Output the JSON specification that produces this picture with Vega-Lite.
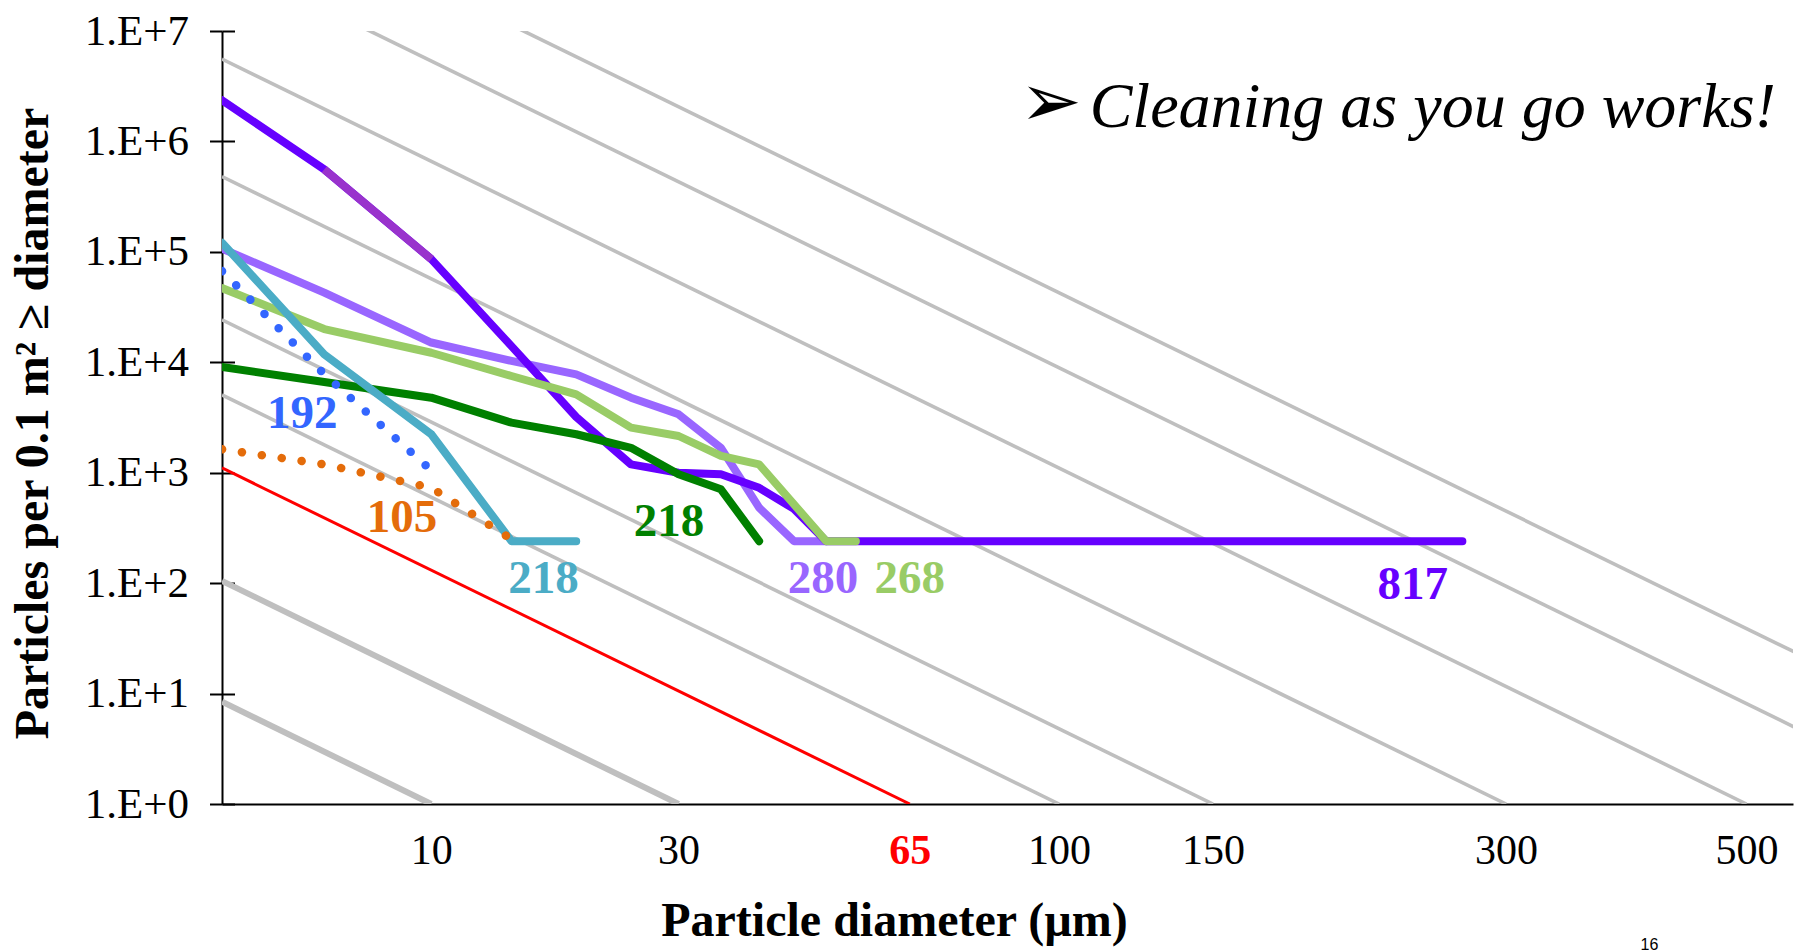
{
  "$schema": "https://vega.github.io/schema/vega-lite/v6.json",
  "width": 1571,
  "height": 773,
  "autosize": "none",
  "padding": {"left": 222, "top": 31, "right": 13, "bottom": 148},
  "background": "white",
  "config": {"view": {"stroke": null}, "font": "Liberation Serif"},
  "data": {"values": [
    {"kind": "ref", "s": "L10", "L": 10, "d": 1, "n": 8.43},
    {"kind": "ref", "s": "L10", "L": 10, "d": 10, "n": 1},
    {"kind": "ref", "s": "L30", "L": 30, "d": 1, "n": 104.8},
    {"kind": "ref", "s": "L30", "L": 30, "d": 30, "n": 1},
    {"kind": "ref", "s": "L100", "L": 100, "d": 1, "n": 5058},
    {"kind": "ref", "s": "L100", "L": 100, "d": 100, "n": 1},
    {"kind": "ref", "s": "L150", "L": 150, "d": 1, "n": 24265},
    {"kind": "ref", "s": "L150", "L": 150, "d": 150, "n": 1},
    {"kind": "ref", "s": "L300", "L": 300, "d": 1, "n": 480900},
    {"kind": "ref", "s": "L300", "L": 300, "d": 300, "n": 1},
    {"kind": "ref", "s": "L500", "L": 500, "d": 1, "n": 5565000},
    {"kind": "ref", "s": "L500", "L": 500, "d": 500, "n": 1},
    {"kind": "ref", "s": "L750", "L": 750, "d": 1, "n": 45110000},
    {"kind": "ref", "s": "L750", "L": 750, "d": 750, "n": 1},
    {"kind": "ref", "s": "L1000", "L": 1000, "d": 1, "n": 215800000},
    {"kind": "ref", "s": "L1000", "L": 1000, "d": 1000, "n": 1},
    {"kind": "limit", "s": "65", "d": 1, "n": 1105},
    {"kind": "limit", "s": "65", "d": 65, "n": 1},
    {"kind": "solid", "s": "280", "d": 1, "n": 107000},
    {"kind": "solid", "s": "280", "d": 5, "n": 42700},
    {"kind": "solid", "s": "280", "d": 10, "n": 15100},
    {"kind": "solid", "s": "280", "d": 15, "n": 10300},
    {"kind": "solid", "s": "280", "d": 20, "n": 7780},
    {"kind": "solid", "s": "280", "d": 25, "n": 4780},
    {"kind": "solid", "s": "280", "d": 30, "n": 3380},
    {"kind": "solid", "s": "280", "d": 35, "n": 1680},
    {"kind": "solid", "s": "280", "d": 40, "n": 482},
    {"kind": "solid", "s": "280", "d": 45, "n": 240},
    {"kind": "solid", "s": "280", "d": 50, "n": 240},
    {"kind": "solid", "s": "817", "d": 1, "n": 2360000},
    {"kind": "solid", "s": "817", "d": 5, "n": 559000},
    {"kind": "solid", "s": "817", "d": 10, "n": 86000},
    {"kind": "solid", "s": "817", "d": 15, "n": 14000},
    {"kind": "solid", "s": "817", "d": 20, "n": 3200},
    {"kind": "solid", "s": "817", "d": 25, "n": 1190},
    {"kind": "solid", "s": "817", "d": 30, "n": 1000},
    {"kind": "solid", "s": "817", "d": 35, "n": 970},
    {"kind": "solid", "s": "817", "d": 40, "n": 730},
    {"kind": "solid", "s": "817", "d": 45, "n": 470},
    {"kind": "solid", "s": "817", "d": 50, "n": 240},
    {"kind": "solid", "s": "817", "d": 272, "n": 240},
    {"kind": "solid", "s": "268", "d": 1, "n": 47000},
    {"kind": "solid", "s": "268", "d": 5, "n": 20000},
    {"kind": "solid", "s": "268", "d": 10, "n": 12200},
    {"kind": "solid", "s": "268", "d": 15, "n": 7510},
    {"kind": "solid", "s": "268", "d": 20, "n": 5130},
    {"kind": "solid", "s": "268", "d": 25, "n": 2560},
    {"kind": "solid", "s": "268", "d": 30, "n": 2150},
    {"kind": "solid", "s": "268", "d": 35, "n": 1420},
    {"kind": "solid", "s": "268", "d": 40, "n": 1190},
    {"kind": "solid", "s": "268", "d": 50, "n": 240},
    {"kind": "solid", "s": "268", "d": 55, "n": 240},
    {"kind": "solid", "s": "218g", "d": 1, "n": 9060},
    {"kind": "solid", "s": "218g", "d": 5, "n": 6640},
    {"kind": "solid", "s": "218g", "d": 10, "n": 4780},
    {"kind": "solid", "s": "218g", "d": 15, "n": 2840},
    {"kind": "solid", "s": "218g", "d": 20, "n": 2230},
    {"kind": "solid", "s": "218g", "d": 25, "n": 1680},
    {"kind": "solid", "s": "218g", "d": 30, "n": 970},
    {"kind": "solid", "s": "218g", "d": 35, "n": 707},
    {"kind": "solid", "s": "218g", "d": 40, "n": 240},
    {"kind": "solid", "s": "218t", "d": 1, "n": 121000},
    {"kind": "solid", "s": "218t", "d": 5, "n": 11800},
    {"kind": "solid", "s": "218t", "d": 10, "n": 2230},
    {"kind": "solid", "s": "218t", "d": 15, "n": 240},
    {"kind": "solid", "s": "218t", "d": 20, "n": 240},
    {"kind": "seg", "s": "817seg", "d": 5, "n": 559000},
    {"kind": "seg", "s": "817seg", "d": 10, "n": 86000},
    {"kind": "dot", "s": "192", "d": 1, "n": 67000},
    {"kind": "dot", "s": "192", "d": 5, "n": 7800},
    {"kind": "dot", "s": "192", "d": 10, "n": 1050},
    {"kind": "dot", "s": "105", "d": 1, "n": 1630},
    {"kind": "dot", "s": "105", "d": 5, "n": 1190},
    {"kind": "dot", "s": "105", "d": 10, "n": 731},
    {"kind": "dot", "s": "105", "d": 15, "n": 250},
    {"kind": "label", "s": "192", "t": "192", "d": 4.16, "n": 2557},
    {"kind": "label", "s": "105", "t": "105", "d": 8.455, "n": 292},
    {"kind": "label", "s": "218t", "t": "218", "d": 17.35, "n": 80.9},
    {"kind": "label", "s": "218g", "t": "218", "d": 28.93, "n": 267},
    {"kind": "label", "s": "280", "t": "280", "d": 49.5, "n": 80.9},
    {"kind": "label", "s": "268", "t": "268", "d": 64.97, "n": 80.9},
    {"kind": "label", "s": "817", "t": "817", "d": 242.8, "n": 71.8},
    {"kind": "note", "t": "Cleaning as you go works!", "d": 108.7, "n": 1350000},
    {"kind": "arrow", "t": "➢", "d": 97.7, "n": 1380000},
    {"kind": "page", "t": "16", "d": 409, "n": 0.0477}
  ]},
  "transform": [{"calculate": "pow(log(datum.d) / LN10, 2)", "as": "u"}],
  "resolve": {"axis": {"y": "independent"}},
  "encoding": {
    "x": {"field": "u", "type": "quantitative", "scale": {"domain": [0, 7.507], "nice": false, "zero": false},
      "axis": {"values": [1, 2.181887, 3.286654, 4, 4.735374, 6.136131, 7.284439],
        "labelExpr": "format(pow(10, sqrt(datum.value)), '.0f')",
        "labelFont": "Liberation Serif", "labelFontSize": 42,
        "labelColor": {"condition": {"test": "abs(datum.value - 3.286654) < 0.01", "value": "#FF0000"}, "value": "black"},
        "labelFontWeight": {"condition": {"test": "abs(datum.value - 3.286654) < 0.01", "value": "bold"}, "value": "normal"},
        "labelPadding": 26, "labelOverlap": false, "labelFlush": false,
        "ticks": false, "tickSize": 0, "grid": false,
        "domainColor": "black", "domainWidth": 2,
        "title": "Particle diameter (µm)", "titleFont": "Liberation Serif", "titleFontSize": 48, "titleFontWeight": "bold", "titleColor": "black",
        "titleX": 672, "titleY": 131, "titleAlign": "center", "titleBaseline": "alphabetic"}}
  },
  "layer": [
    {
      "transform": [{"filter": "datum.kind === 'ref'"}],
      "mark": {"type": "line", "clip": true, "color": "#BFBFBF"},
      "encoding": {
        "y": {"field": "n", "type": "quantitative", "scale": {"type": "log", "domain": [1, 10000000], "nice": false},
          "axis": {"orient": "left", "offset": -12.5, "tickSize": 12.5, "labels": false, "domain": false, "ticks": true, "tickColor": "black", "tickWidth": 2, "grid": false, "title": null,
            "values": [1, 10, 100, 1000, 10000, 100000, 1000000, 10000000]}},
        "detail": {"field": "s"},
        "strokeWidth": {"condition": {"test": "datum.L <= 30", "value": 6}, "value": 3.6}
      }
    },
    {
      "encoding": {
        "y": {"field": "n", "type": "quantitative", "scale": {"type": "log", "domain": [1, 10000000], "nice": false},
          "axis": {"orient": "left", "values": [1, 10, 100, 1000, 10000, 100000, 1000000, 10000000],
            "labelExpr": "'1.E+' + round(log(datum.value) / LN10)",
            "labelFont": "Liberation Serif", "labelFontSize": 43, "labelColor": "black", "labelPadding": 21, "labelOverlap": false, "labelFlush": false,
            "tickSize": 12.5, "tickColor": "black", "tickWidth": 2, "domainColor": "black", "domainWidth": 2, "grid": false,
            "title": "Particles per 0.1 m² ≥ diameter", "titleFont": "Liberation Serif", "titleFontSize": 48, "titleFontWeight": "bold", "titleColor": "black",
            "titleX": -175, "titleY": 392, "titleAngle": -90, "titleAlign": "center", "titleBaseline": "alphabetic"}}
      },
      "layer": [
        {
          "transform": [{"filter": "datum.kind === 'limit'"}],
          "mark": {"type": "line", "clip": true, "color": "#FF0000", "strokeWidth": 3}
        },
        {
          "transform": [{"filter": "datum.kind === 'solid'"}],
          "mark": {"type": "line", "clip": true, "strokeWidth": 8, "strokeCap": "round", "strokeJoin": "round"},
          "encoding": {
            "color": {"field": "s", "type": "nominal", "legend": null,
              "scale": {"domain": ["280", "817", "268", "218g", "218t", "817seg", "192", "105", "65"],
                "range": ["#9966FF", "#6600FF", "#99CC66", "#008000", "#4BACC6", "#9933CC", "#3366FF", "#E46C0A", "#FF0000"]}}
          }
        },
        {
          "transform": [{"filter": "datum.kind === 'seg'"}],
          "mark": {"type": "line", "clip": true, "strokeWidth": 8, "strokeCap": "butt", "strokeJoin": "round"},
          "encoding": {"color": {"field": "s", "type": "nominal", "legend": null}}
        },
        {
          "transform": [{"filter": "datum.kind === 'dot'"}],
          "mark": {"type": "line", "clip": true, "strokeWidth": 8.5, "strokeCap": "round", "strokeDash": [0.1, 20]},
          "encoding": {"color": {"field": "s", "type": "nominal", "legend": null}}
        },
        {
          "transform": [{"filter": "datum.kind === 'label'"}],
          "mark": {"type": "text", "font": "Liberation Serif", "fontSize": 47, "fontWeight": "bold", "align": "center", "baseline": "alphabetic"},
          "encoding": {"text": {"field": "t"}, "color": {"field": "s", "type": "nominal", "legend": null}}
        },
        {
          "transform": [{"filter": "datum.kind === 'note'"}],
          "mark": {"type": "text", "font": "Liberation Serif", "fontSize": 64, "fontStyle": "italic", "align": "left", "baseline": "alphabetic", "color": "black"},
          "encoding": {"text": {"field": "t"}}
        },
        {
          "transform": [{"filter": "datum.kind === 'arrow'"}],
          "mark": {"type": "text", "font": "DejaVu Sans", "fontSize": 74, "align": "center", "baseline": "alphabetic", "color": "black"},
          "encoding": {"text": {"field": "t"}}
        },
        {
          "transform": [{"filter": "datum.kind === 'page'"}],
          "mark": {"type": "text", "font": "Liberation Sans", "fontSize": 16, "align": "center", "baseline": "alphabetic", "color": "black"},
          "encoding": {"text": {"field": "t"}}
        }
      ]
    }
  ]
}
